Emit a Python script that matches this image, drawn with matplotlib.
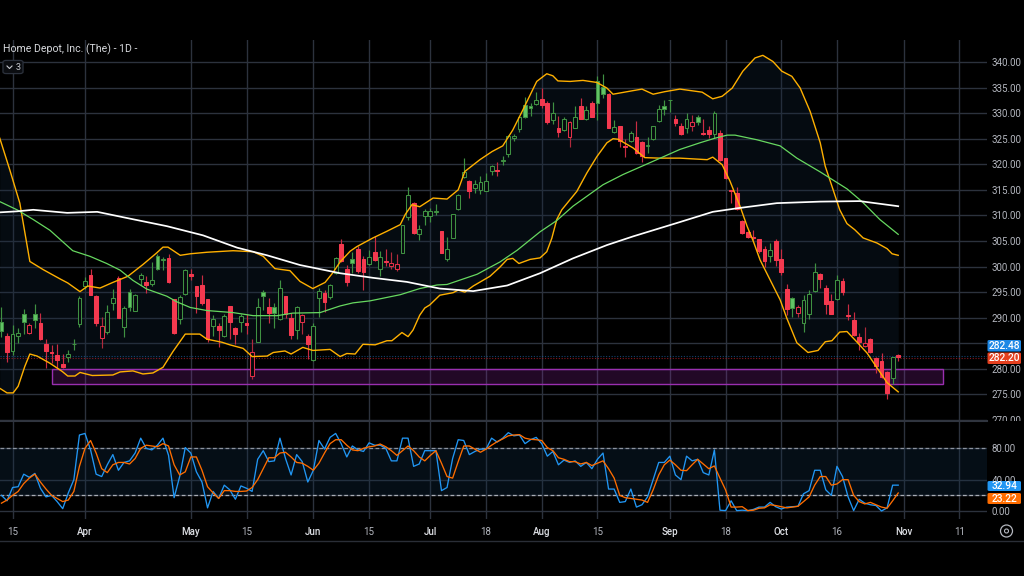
import matplotlib
matplotlib.use("Agg")
import matplotlib.pyplot as plt
import numpy as np
from matplotlib.patches import Rectangle, FancyBboxPatch, Ellipse
from matplotlib.lines import Line2D

plt.rcParams['font.family'] = ['Roboto', 'DejaVu Sans']

first_bar = -15  # trading-day index of first candle; index 0 is the April tick
opens = [289.2,286.4,283.4,286.5,290.8,287.1,290.7,288.9,284.9,283.3,282.7,281.0,282.3,284.8,288.7,
 296.2,298.4,294.2,286.1,287.2,292.9,297.7,288.2,295.1,291.4,297.5,296.9,296.6,302.1,301.2,
 301.6,293.6,289.7,294.6,298.6,296.2,296.4,293.6,288.4,288.4,286.5,292.3,287.9,289.2,288.9,
 278.7,285.3,295.0,292.1,292.0,289.8,294.2,290.0,287.5,289.2,286.4,281.8,293.9,294.9,294.1,298.8,
 304.4,299.6,301.4,303.5,301.5,300.5,302.8,299.6,301.0,300.1,299.6,302.6,309.6,312.4,
 306.3,309.8,309.8,310.6,306.9,301.4,305.5,311.2,317.5,316.8,315.3,315.0,314.7,318.6,318.8,320.6,
 322.1,325.1,326.9,331.6,331.4,331.7,332.8,331.9,328.6,327.1,326.8,325.4,327.1,331.3,328.8,331.9,
 336.2,335.1,333.7,326.3,327.5,323.5,324.5,325.3,324.4,323.5,324.9,328.4,331.3,332.5,328.8,327.5,
 327.1,327.4,329.2,326.2,326.7,326.0,326.2,321.2,314.9,314.4,309.0,306.8,305.8,305.3,303.4,302.1,
 305.0,301.5,295.6,293.8,291.0,289.0,290.7,295.3,298.6,295.9,293.2,293.6,297.2,290.5,289.6,286.2,
 284.5,285.8,282.1,281.5,279.4,278.2,282.7]
highs = [292.1,287.0,288.6,287.9,291.7,288.9,292.7,291.0,285.8,284.7,284.8,283.0,283.7,285.8,294.2,
 298.0,299.6,294.4,290.2,292.5,295.7,298.1,292.3,295.7,294.6,298.8,298.1,300.9,302.5,301.8,
 302.5,293.7,294.4,299.6,299.6,296.2,298.4,293.6,290.5,288.9,290.8,292.3,288.2,290.8,290.7,
 285.8,293.8,295.5,293.9,292.8,297.3,294.2,290.9,292.3,290.7,286.8,289.0,295.8,295.5,296.6,301.9,
 305.4,300.4,302.8,304.1,302.0,303.3,305.9,303.0,303.5,302.8,302.4,308.2,315.5,312.6,
 308.2,311.3,311.5,312.3,306.9,305.7,310.2,314.1,321.2,317.0,316.9,317.8,318.3,319.9,320.4,321.7,
 325.8,326.0,329.5,333.2,331.9,334.1,334.9,332.3,332.1,329.5,329.2,328.5,331.4,332.9,331.4,332.3,
 337.3,337.6,333.9,328.7,327.5,325.0,326.6,328.4,324.5,325.4,327.5,331.6,332.5,332.6,329.7,328.0,
 330.0,329.6,329.7,328.8,327.4,330.4,326.8,321.2,315.0,315.6,309.2,306.9,307.2,305.4,304.0,304.7,
 305.3,303.4,296.5,294.0,292.5,294.5,295.5,300.6,298.7,296.3,294.7,298.4,297.8,292.7,291.2,287.0,
 288.2,286.0,282.3,283.1,279.5,282.3,283.0]
lows = [286.2,281.4,282.7,285.0,286.9,286.9,287.9,285.6,280.1,281.1,280.1,280.1,281.4,283.7,288.2,
 295.7,294.4,288.4,284.1,286.9,291.6,289.9,286.3,291.4,291.4,296.4,294.9,296.2,299.3,299.3,
 296.8,286.9,288.8,294.4,297.3,291.0,292.5,285.3,286.5,284.3,286.3,285.8,284.9,287.3,286.8,
 278.0,285.2,291.5,288.9,287.9,289.5,290.0,285.8,285.8,286.9,281.9,281.6,290.2,291.2,293.6,298.6,
 300.9,296.2,298.8,298.8,295.5,300.3,301.1,298.1,300.1,299.6,299.2,302.6,309.2,306.3,
 305.1,308.2,308.7,310.0,302.6,301.1,305.5,311.0,317.3,313.5,314.3,314.1,314.7,318.0,317.8,319.9,
 321.5,324.5,326.4,329.0,329.5,331.5,331.0,327.9,327.9,325.3,326.6,323.4,327.0,328.8,328.6,329.2,
 328.6,332.9,327.0,326.1,323.3,321.5,324.3,322.1,320.4,322.3,324.8,328.2,329.7,330.2,327.4,325.8,
 326.1,326.6,327.7,325.8,325.1,325.1,320.6,317.1,312.4,311.1,306.4,305.6,305.2,302.7,300.0,300.8,
 300.1,298.4,290.6,290.1,290.1,287.3,289.8,295.1,295.8,290.7,290.8,293.5,294.5,289.6,286.5,283.6,
 284.3,283.1,279.1,278.3,274.2,277.0,281.5]
closes = [287.4,283.2,286.9,287.1,289.2,288.6,289.5,285.9,283.4,283.1,281.8,280.3,283.0,284.9,293.8,
 297.2,294.5,288.9,288.4,291.2,293.9,290.0,291.9,292.1,294.4,298.3,296.4,297.4,299.5,301.4,
 296.9,287.1,294.1,299.4,298.2,294.3,292.9,285.8,289.7,287.5,290.3,289.2,286.8,290.3,288.5,
 283.2,292.0,294.2,290.9,291.0,295.8,290.7,286.6,292.1,290.6,284.9,288.4,295.3,293.1,296.3,301.6,
 301.1,297.0,300.7,299.2,299.0,301.9,301.2,301.8,300.9,300.7,300.5,308.1,313.9,306.6,
 307.4,310.9,310.8,310.8,302.6,303.5,310.2,314.0,318.4,314.7,316.2,316.6,316.8,319.7,318.6,320.8,
 325.6,325.6,329.3,329.3,331.0,332.6,331.5,328.2,330.0,326.4,328.8,328.2,329.3,328.9,330.6,329.3,
 331.9,333.8,327.1,327.3,324.6,323.3,326.1,322.3,321.6,323.8,327.5,330.9,330.8,332.6,328.1,326.0,
 328.9,328.3,328.2,326.0,326.0,330.0,320.8,317.3,314.8,311.2,306.6,305.8,305.6,303.0,301.1,303.2,
 301.2,299.0,291.8,291.9,292.1,293.5,294.7,299.0,297.6,292.7,290.8,297.3,295.1,290.3,286.6,285.2,
 285.0,283.2,280.5,278.4,275.3,282.3,282.3]
bar_dir = ("grgggrgrrrrrggg" "grrrggrggg" "grgggrrggr" "rrrgrgrrgr" "rggrggrrgr" "rggrggrrgr"
           "rgrgrrrggr" "ggggrggggr" "ggggrggggg" "ggrrgrgrgr" "grggrgrrgr" "rgggggrrgr"
           "grrgrrrrrr" "rrrgrrrgrg" "ggrrrgrrrr" "rrrrrgr")

upper_x = [-15.3,-13.5,-11.7,-11.2,-9.9,-7.5,-4.5,-3.1,-0.9,0.5,2.7,5.0,7.7,10.4,12.9,14,14.9,17.1,18.9,21.9,26.6,30.2,32,34.1,36.8,38.6,40.9,43.1,44.5,45.8,47.6,48.8,51.7,54.2,56.6,57.5,58.7,60.1,62.5,65,67,68.2,70.9,73.1,75,76.8,78.6,81.1,82.9,84,84.9,87.1,89.4,91.9,93.7,94.8,98.4,100,102,104.1,106.8,110.8,112.7,114.4,116.2,118.1,120.3,121.7,123.5,125.1,126.9,128.4,130.2,132,132.9,133.8,135.5,136.8,138.2,139.7,142.2,144,144.9,146]
upper_y = [325.1,318.9,312.4,309.2,301.0,299.4,297.6,296.8,295.1,296.2,295.8,296.9,298.1,300.4,302.7,303.8,303.8,302.2,302.5,302.8,303.1,302.9,302.0,299.6,299.2,297.1,295.7,296.9,298.8,300.9,303.0,303.9,305.6,306.9,308.2,310.2,312.1,311.7,313.4,313.2,315.0,318.6,320.9,322.5,323.6,326.7,330.6,336.2,337.7,337.3,336.3,336.2,336.4,336.0,334.9,333.7,334.4,334.7,333.7,334.2,334.7,334.1,332.8,333.3,334.9,338.2,340.8,341.3,340.1,338.2,337.2,334.9,330.3,324.2,319.6,316.7,311.1,308.4,307.2,305.6,304.6,303.5,302.5,302.2]
lower_x = [-15.3,-14,-12.9,-12,-10.8,-9.9,-8.6,-6.3,-4.1,-3.1,-1.8,-0.9,1.3,5,6.3,8.6,10.4,12.2,14,15.8,18,20.6,21.9,24.6,26,28.4,30,32.7,33.8,35.9,37,39.1,40.9,44,45.8,47,48.5,49.9,52.1,54.2,55.1,56.9,58,58.9,60.1,61,61.9,63.7,66.1,67,68.2,69.7,72.7,74.5,75.8,76.8,77.9,79.9,81.7,82.9,83.8,84.7,85.6,87.1,88.3,90.1,91.9,93.7,94.8,95.7,98.4,100.5,103.2,106.8,111.7,112.7,114.4,115.8,117.6,118.9,120,121.2,123,124.8,126,127.8,129.8,131.6,132.9,134.1,135.5,136.8,138.2,140.4,142.2,144,146]
lower_y = [276.2,275.3,275.3,276.6,280.5,282.9,282.5,281.1,279.5,278.6,278.6,279.3,278.7,278.8,279.4,279.6,279.0,279.2,280.3,283.4,286.8,286.8,285.8,285.2,284.7,284.0,282.4,282.5,283.2,283.5,282.9,284.2,283.6,283.8,282.4,283.0,282.9,284.8,284.7,285.5,285.5,287.1,286.3,287.6,290.5,291.9,292.5,294.4,294.9,295.4,295.0,296.2,298.1,299.9,301.4,301.6,300.6,301.4,301.7,302.9,305.5,309.2,311.1,313.1,314.7,318.3,321.5,324.2,325.0,324.9,323.2,321.3,321.2,321.2,320.9,321.4,319.9,316.7,311.8,307.8,304.9,301.3,297.4,293.5,289.9,285.1,283.2,283.6,285.3,285.5,287.2,287.3,285.7,283.1,280.2,277.3,275.5]
sma50_x = [-15.3,-12.2,-9.3,-6.3,-2.2,0.9,3.9,6.3,8.6,11.1,14.7,16.5,18.9,21.9,26.6,30.2,34.5,37.3,42.2,45.8,48.1,51.2,56.6,60.1,63.2,65,70.4,74.5,77.6,81.7,84.7,87.6,93,96.6,101.4,106.8,110.4,113.1,115.3,116.7,120.6,124.8,127.8,132,136.8,139.5,142.7,146]
sma50_y = [312.7,311.1,309.2,307.1,303.1,302.0,300.6,299.3,297.3,295.6,294.2,293.1,292.0,291.4,291.0,290.4,290.4,290.9,291.0,292.3,292.9,293.3,294.5,295.7,296.4,296.5,298.5,300.9,303.2,306.8,309.0,311.8,316.0,318.0,320.3,322.9,324.2,325.1,325.7,325.7,324.8,323.6,321.2,318.5,315.2,312.7,309.2,306.3]
sma200_x = [-15.3,-12.2,-9.3,-3.2,2.2,7.5,14.7,21.2,27.3,32.7,38.6,45.8,51.7,57.8,63.7,69.7,75.8,81.7,87.6,93.7,98.4,106.8,112.7,117.1,124.2,132,139.1,146]
sma200_y = [310.6,310.8,311.1,310.5,310.7,309.5,307.9,306.1,303.7,302.2,300.3,298.7,297.8,297.0,295.7,295.2,296.3,298.7,301.6,304.2,305.9,308.7,310.7,311.4,312.4,312.7,312.8,311.8]

stoch_k = [20,13,30,31,47,43,48,29,18,20,12,3,23,40,97,
 99,78,47,44,59,72,52,62,64,74,93,80,78,84,93,71,17,44,81,74,50,37,4,25,16,33,27,15,32,29,25,66,77,63,64,93,67,46,72,63,37,52,90,79,94,99,
 86,69,83,78,76,87,84,84,80,64,64,93,93,57,60,77,77,77,26,30,67,91,90,72,76,79,79,93,88,93,100,96,97,86,91,94,86,70,76,59,65,62,64,57,62,54,66,74,28,28,11,12,28,5,8,18,40,62,62,70,46,
 40,70,64,66,49,46,78,1,0.5,13,0.5,1,0.5,2,5,5,11,5.5,2.5,5,5.5,6,22,26,52,52,27,20,57,44,18,0.5,15,10,8,7,0,4,33,33]
stoch_d = [10,14,20,25,35,42,47,37,28,20,16,12,14,25,57,
 80,90,74,54,49,59,62,62,60,67,80,84,83,82,86,83,59,46,50,69,69,52,31,23,16,26,26,25,25,25.5,30,40,54,68,68,74,75,69,62,61,57,52,61,74,86,91,
 91,84,78,77,80,82,83,85.5,82,77,71,77,83,77,69,64,71,77,61,44,42,63,83,83,79,75,79,84,88.5,92,96,97,97.5,93,91.5,91,90,81,77,68,66,63,63,60,62,58,61,64,54,42,20,17,16,15,14,11,27,46,59,65,59,
 52,51.5,59,66,60,54,57.5,42,27,5,5,5.5,0.5,1,3.5,4,8,7,5.5,4,5,6,12,18,33,44,44,33,34.5,40,40,20,12,9,11,8,5,3.5,13,23]

price_ticks = [340,335,330,325,320,315,310,305,300,295,290,285,280,275,270]
hidden_price_ticks = [285]
stoch_ticks = [80,40,20,0]
stoch_labels = ["80.00","40.00","","0.00"]
time_pos = [-13,0,19,29,41,51,62,72,82,92,105,115,125,135,147,157]
time_labels = ["15","Apr","May","15","Jun","15","Jul","18","Aug","15","Sep","18","Oct","16","Nov","11"]
zone_x = [-5.9,154]
zone_y = [277.1,280]
last_close = 282.48
prev_marker = 282.20
k_last, d_last = 32.94, 23.22

W, H = 1024, 576
BG = "#000000"; GRID = "#2c323d"; TXT = "#b4b7bf"
GREEN_E = "#3f9142"; GREEN_F = "#62c566"; RED_F = "#f4394f"; RED_W = "#b02a3c"
fig = plt.figure(figsize=(W/100, H/100), dpi=100, facecolor=BG)

def rect(x0, y0, x1, y1):
    return [x0/W, 1-y1/H, (x1-x0)/W, (y1-y0)/H]

ax = fig.add_axes(rect(0, 40, 987, 420), facecolor=BG)
ax2 = fig.add_axes(rect(0, 421, 987, 519), facecolor=BG)

for a in (ax, ax2):
    for s in a.spines.values():
        s.set_visible(False)
    a.set_xlim(-15.26, 161.94)
    a.set_xticks(time_pos)
    a.grid(True, color=GRID, lw=1.0, zorder=0)
    a.set_axisbelow(True)
    a.yaxis.tick_right()

ax.set_ylim(270.15, 344.3)
ax.set_yticks(price_ticks)
ax.set_yticklabels(["" if t in hidden_price_ticks else f"{t:.2f}" for t in price_ticks])
ax.tick_params(axis='x', length=0, labelbottom=False)
ax.tick_params(axis='y', length=0, pad=3.6, labelsize=7, labelcolor=TXT)

# bands
xs_all = sorted(set(upper_x) | set(lower_x))
ax.fill_between(xs_all, np.interp(xs_all, upper_x, upper_y), np.interp(xs_all, lower_x, lower_y),
                color="#12263a", alpha=0.3, lw=0, zorder=1)
ax.add_patch(Rectangle((zone_x[0], zone_y[0]), zone_x[1]-zone_x[0], zone_y[1]-zone_y[0],
                       facecolor="#9c27b0", alpha=0.22, lw=0, zorder=1.5))
ax.add_patch(Rectangle((zone_x[0], zone_y[0]), zone_x[1]-zone_x[0], zone_y[1]-zone_y[0],
                       facecolor="none", edgecolor="#9a2fb0", lw=1.0, zorder=1.6))
ax.axhline(last_close, color="#1e6fb8", lw=0.8, ls=(0, (1, 1.5)), zorder=1.7, alpha=.6)
ax.axhline(prev_marker, color="#b0202a", lw=0.8, ls=(0, (1, 1.5)), zorder=1.8, alpha=.75)

# candles
for n, (o, h, l, c, d) in enumerate(zip(opens, highs, lows, closes, bar_dir)):
    x = first_bar + n
    hollow = c > o
    if d == "g":
        wick, edge, face = GREEN_E, GREEN_E, ("#060a0e" if hollow else GREEN_F)
    else:
        wick = RED_W if hollow else "#c92c42"
        edge = "#e03048" if hollow else RED_F
        face = "#060a0e" if hollow else RED_F
    ax.vlines(x, l, h, color=wick, lw=0.85, zorder=2)
    top, bot = max(o, c), min(o, c)
    ax.bar(x, max(top-bot, 0.12), bottom=bot, width=0.68, facecolor=face, edgecolor=edge, lw=0.75, zorder=3)

ax.plot(upper_x, upper_y, color="#ffb000", lw=1.0, zorder=4)
ax.plot(lower_x, lower_y, color="#ffb000", lw=1.0, zorder=4)
ax.plot(sma50_x, sma50_y, color="#67d860", lw=0.9, zorder=4)
ax.plot(sma200_x, sma200_y, color="#ffffff", lw=1.25, zorder=4)

# stochastic pane
ax2.set_ylim((511-519)/0.7833, (511-421)/0.7833)
ax2.set_yticks(stoch_ticks)
ax2.set_yticklabels(stoch_labels)
ax2.tick_params(axis='y', length=0, pad=3.6, labelsize=7, labelcolor=TXT)
ax2.set_xticklabels(time_labels)
ax2.tick_params(axis='x', length=0, pad=6, labelsize=7)
for lab in ax2.get_xticklabels():
    month = lab.get_text().isalpha()
    lab.set_color("#dfe1e6" if month else TXT)
    lab.set_fontweight("medium" if month else "normal")
ax2.axhspan(20, 80, color="#12304a", alpha=0.3, lw=0, zorder=1)
ax2.axhline(80, color="#8d939e", lw=0.9, ls=(0, (3, 2)), zorder=1.5)
ax2.axhline(20, color="#a9adb5", lw=0.9, ls=(0, (3, 2)), zorder=1.5)
xbar = [first_bar+n for n in range(len(stoch_k))]
ax2.plot(xbar, stoch_k, color="#2196f3", lw=0.95, zorder=3)
ax2.plot(xbar, stoch_d, color="#ff6d00", lw=0.95, zorder=4)

# decorations in pixels
def fx(x): return x/W
def fy(y): return 1-y/H
fig.add_artist(Rectangle((fx(987), fy(436)), 37/W, 15/H, transform=fig.transFigure, facecolor=BG, lw=0, zorder=5))
fig.add_artist(Line2D([0, fx(987)], [fy(420.5)]*2, color="#30353f", lw=1.5, zorder=6))
fig.add_artist(Line2D([0, 1], [fy(541)]*2, color="#2a2e37", lw=1.0, zorder=6))

fig.text(fx(3), fy(49.5), "Home Depot, Inc. (The) - 1D -", color="#d6d8dc", fontsize=7.6, va="center", ha="left", zorder=7)
fig.add_artist(FancyBboxPatch((fx(4), fy(73)), 18/W, 12/H, boxstyle="round,pad=0.001,rounding_size=0.003",
               transform=fig.transFigure, facecolor="#0b0d11", edgecolor="#2c323d", lw=0.9, zorder=6))
fig.add_artist(Line2D([fx(7), fx(9.5), fx(12)], [fy(66), fy(68.5), fy(66)], color="#c8cad0", lw=0.8, zorder=7))
fig.text(fx(17.8), fy(67.5), "3", color="#c8cad0", fontsize=6.5, ha="center", va="center", zorder=7)

def tag(y0, y1, color, text):
    fig.add_artist(FancyBboxPatch((fx(987.5), fy(y1)), 33.5/W, (y1-y0)/H, boxstyle="round,pad=0,rounding_size=0.002",
                   transform=fig.transFigure, facecolor=color, lw=0, zorder=7))
    fig.text(fx(1004.5), fy((y0+y1)/2), text, color="white", fontsize=7.4, ha="center", va="center", zorder=8, fontweight="medium")
tag(340, 351.5, "#1e88e5", f"{last_close:.2f}")
tag(352.5, 364, "#e5401f", f"{prev_marker:.2f}")
tag(481, 491, "#2196f3", f"{k_last:.2f}")
tag(493, 504, "#ff6d00", f"{d_last:.2f}")

fig.add_artist(Ellipse((fx(1006.5), fy(531)), 12/W, 12/H, transform=fig.transFigure, facecolor="none", edgecolor=TXT, lw=0.9, zorder=7))
fig.add_artist(Ellipse((fx(1006.5), fy(531)), 4/W, 4/H, transform=fig.transFigure, facecolor="none", edgecolor=TXT, lw=0.8, zorder=7))

fig.savefig("out.png", dpi=100, facecolor=BG)
